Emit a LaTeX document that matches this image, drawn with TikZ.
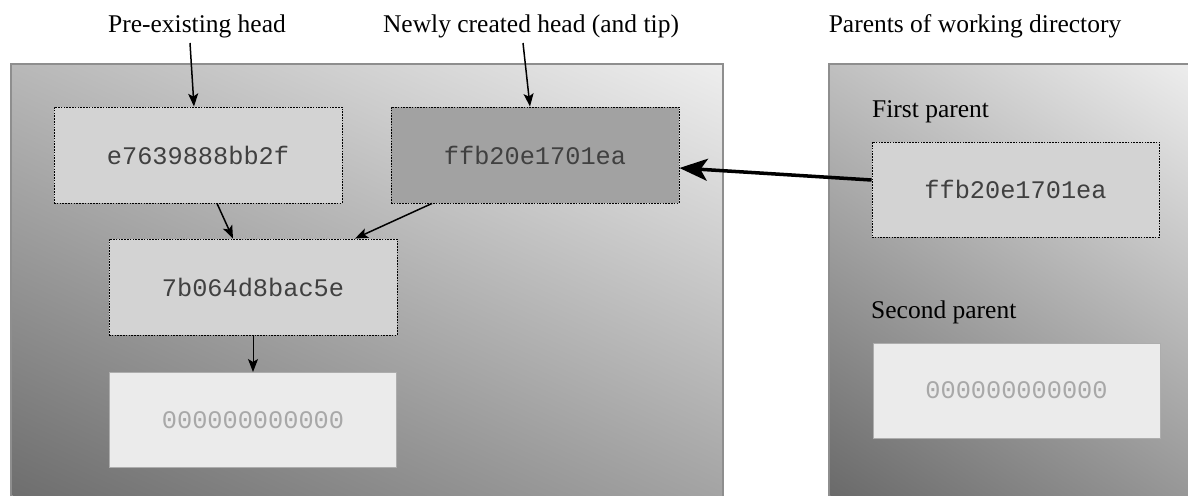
\documentclass[tikz,border=0pt]{standalone}
\usepackage{fontspec}
\setmainfont{Liberation Serif}
\newfontfamily\hashfont{Liberation Mono}
\usetikzlibrary{arrows.meta}
\definecolor{lightbox}{HTML}{D3D3D3}
\definecolor{darkbox}{HTML}{A2A2A2}
\definecolor{zerobox}{HTML}{EBEBEB}
\definecolor{zeroline}{HTML}{ADADAD}
\definecolor{zerotext}{HTML}{A8A8A8}
\definecolor{panelline}{HTML}{8E8E8E}
\definecolor{paneltopL}{HTML}{EEEEEE}
\definecolor{panelbotL}{HTML}{6E6E6E}
\definecolor{paneltopR}{HTML}{EDEDED}
\definecolor{panelbotR}{HTML}{6A6A6A}
\definecolor{hashtext}{HTML}{404040}
\tikzset{
  panelborder/.style={draw=panelline, line width=1.5pt},
  commit/.style={draw=black, line width=0.9pt, dash pattern=on 1.6pt off 1.2pt, fill=lightbox,
    minimum width=288pt, minimum height=96pt, inner sep=0pt, text=hashtext,
    font=\hashfont\fontsize{25.3}{30}\selectfont},
  tipcommit/.style={commit, fill=darkbox},
  nullcommit/.style={draw=zeroline, line width=1pt, fill=zerobox, minimum width=287pt, minimum height=95pt,
    inner sep=0pt, text=zerotext, font=\hashfont\fontsize{25.3}{30}\selectfont},
  caption/.style={inner sep=0pt, anchor=base, font=\fontsize{25.5}{30}\selectfont},
  sublabel/.style={inner sep=0pt, anchor=base west, font=\fontsize{25.5}{30}\selectfont},
  arr/.style={line width=1.5pt, -{Stealth[length=13pt,width=10pt,inset=3pt]}},
  bigarr/.style={line width=3.5pt, -{Stealth[length=28pt,width=22pt,inset=7pt]}}
}
\begin{document}
\begin{tikzpicture}[x=1pt,y=-1pt]
\useasboundingbox (0,0) rectangle (1188,495);
% left panel
\begin{scope}
  \clip (11,64) rectangle (723,505);
  \shade[top color=paneltopL, bottom color=panelbotL,
    transform canvas={rotate around={-23.8:(367,279.5)}}]
    (-83,-61.3) rectangle (817,620.3);
\end{scope}
\draw[panelborder] (11,64) rectangle (723,505);
% right panel
\begin{scope}
  \clip (829,64) rectangle (1200,505);
  \shade[top color=paneltopR, bottom color=panelbotR,
    transform canvas={rotate around={-32.6:(1008.5,279.5)}}]
    (658.5,1.3) rectangle (1358.5,557.7);
\end{scope}
\draw[panelborder] (829,64) rectangle (1200,505);
% captions
\node[caption] (lpre) at (197,33) {Pre-existing head};
\node[caption] (lnew) at (531,33) {Newly created head (and tip)};
\node[caption] (lpar) at (975,33) {Parents of working directory};
\node[sublabel] (lfirst) at (872,117) {First parent};
\node[sublabel] (lsecond) at (871,318) {Second parent};
% commits
\node[commit] (e7) at (198,155) {e7639888bb2f};
\node[tipcommit] (ffbL) at (535,155) {ffb20e1701ea};
\node[commit] (b7) at (253,287) {7b064d8bac5e};
\node[nullcommit] (z0) at (253,420) {000000000000};
\node[commit, minimum width=287pt, minimum height=95pt] (ffbR) at (1015.5,189.5) {ffb20e1701ea};
\node[nullcommit] (z1) at (1016.5,390.5) {000000000000};
% connector free ends
\coordinate (preA) at (190,43);
\coordinate (newA) at (523,43);
% connectors
\draw[arr] (preA) -- ([xshift=-4pt]e7.north);
\draw[arr] (newA) -- ([xshift=-5pt]ffbL.north);
\draw[arr] ([xshift=19pt]e7.south) -- ([xshift=-20pt]b7.north);
\draw[arr] ([xshift=-103pt]ffbL.south) -- ([xshift=102pt]b7.north);
\draw[arr, line width=1pt] (b7.south) -- (z0.north);
\draw[bigarr] ([yshift=9.5pt]ffbR.west) -- ([yshift=-13pt]ffbL.east);
\end{tikzpicture}
\end{document}
